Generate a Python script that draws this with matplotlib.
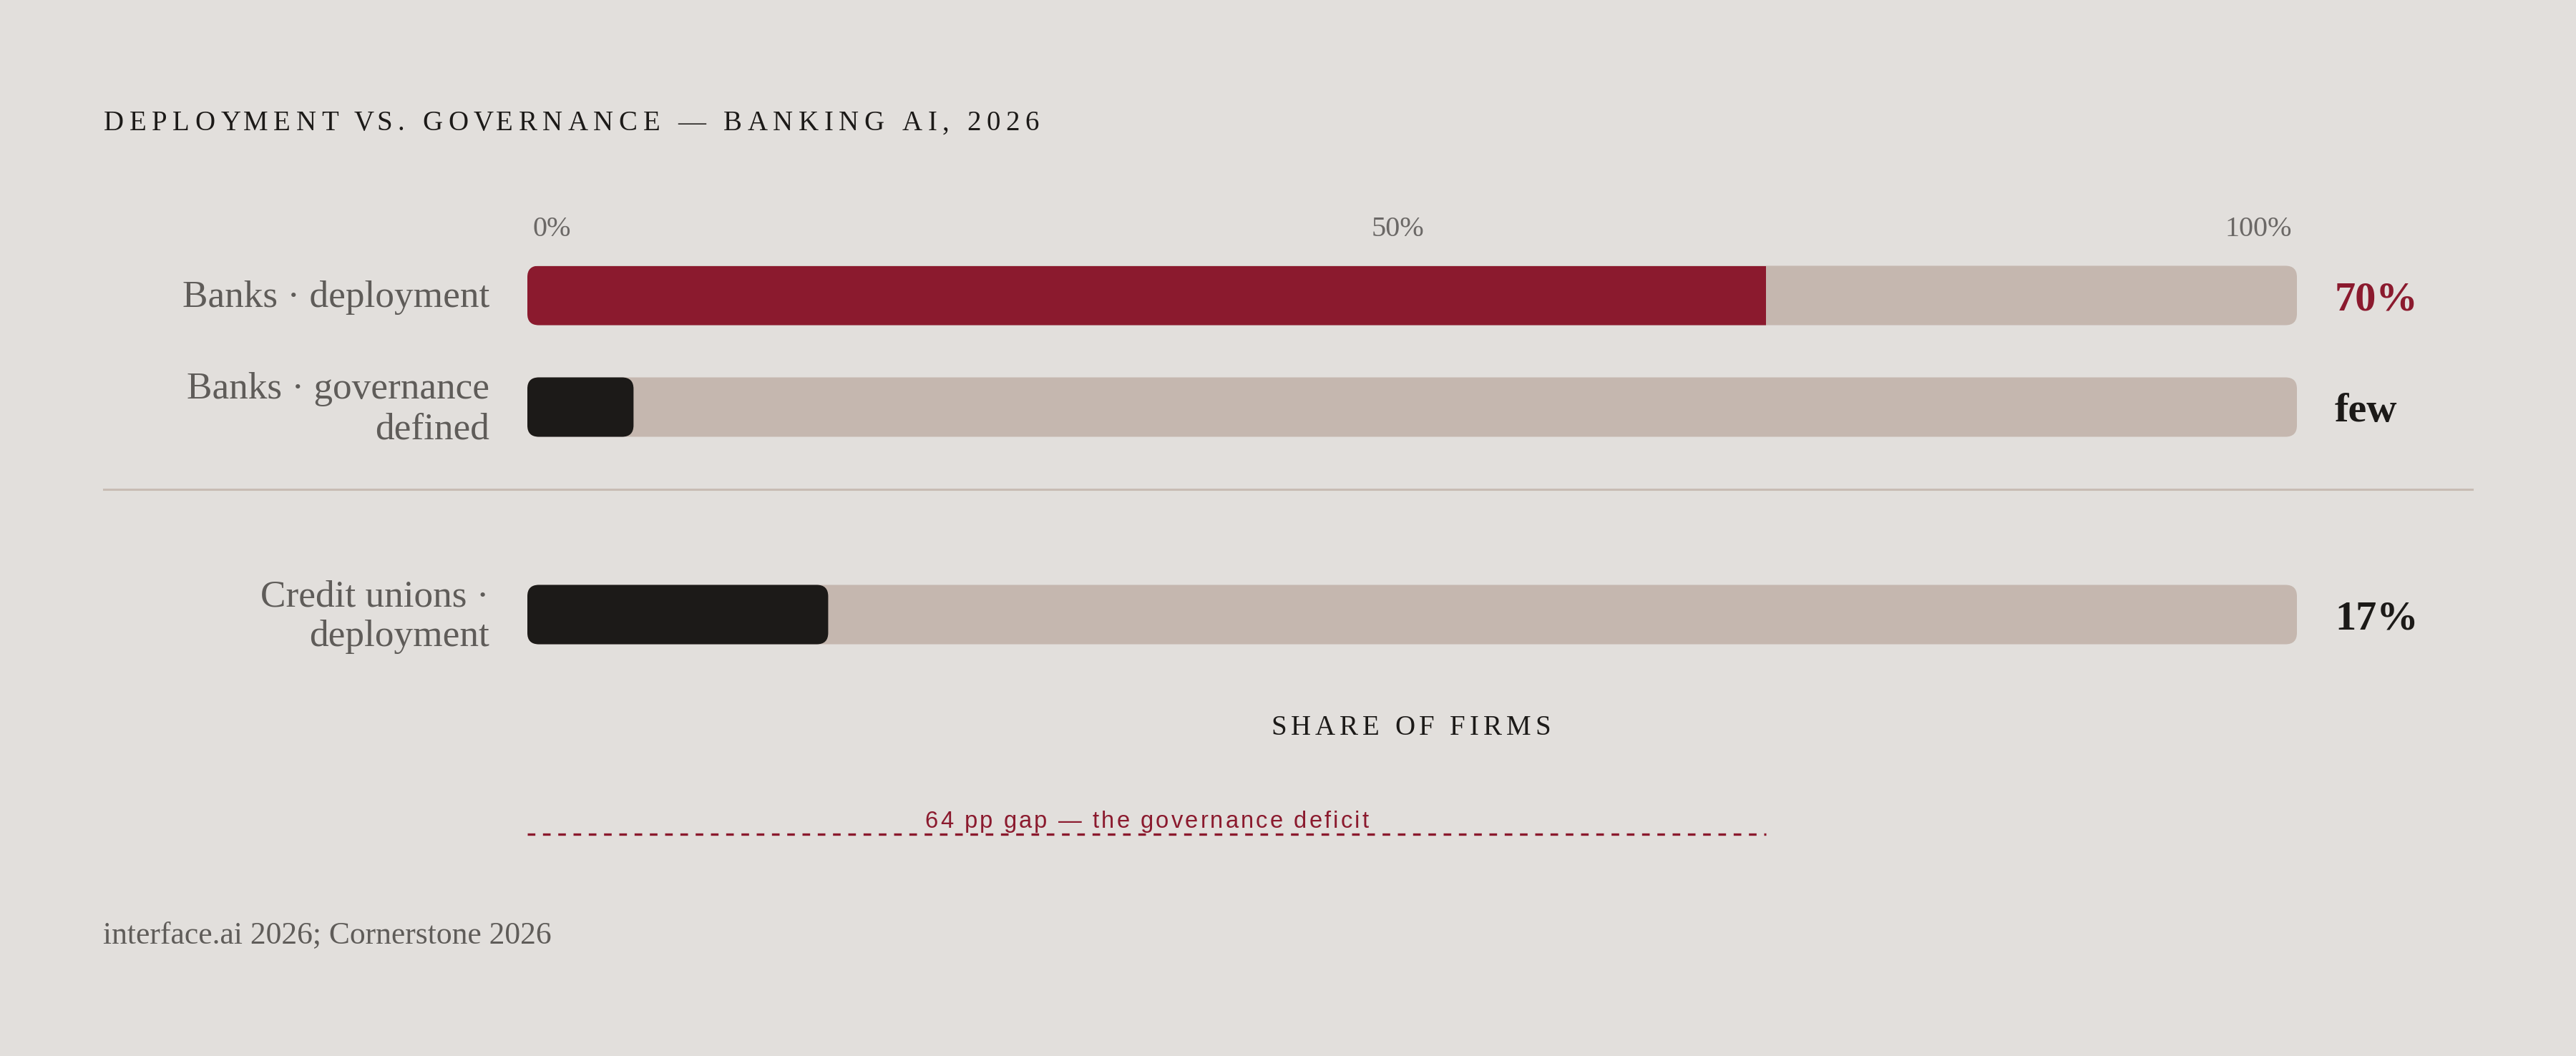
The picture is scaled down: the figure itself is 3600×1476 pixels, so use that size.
import matplotlib
matplotlib.use("Agg")
import matplotlib.pyplot as plt
import matplotlib.transforms as mtrans
from matplotlib.patches import FancyBboxPatch, Rectangle
from matplotlib.lines import Line2D
from matplotlib.font_manager import FontProperties

# ---------------- data ----------------
categories = ["Banks · deployment", "Banks · governance\ndefined", "Credit unions ·\ndeployment"]
values = [70, 6, 17]
value_labels = ["70%", "few", "17%"]
ticks = [0, 50, 100]
tick_labels = ["0%", "50%", "100%"]
gap_label = "64 pp gap — the governance deficit"
gap_span = [0, 70]
title = "DEPLOYMENT VS. GOVERNANCE — BANKING AI, 2026"
axis_title = "SHARE OF FIRMS"
source = "interface.ai 2026; Cornerstone 2026"

# ---------------- style ----------------
BG = "#E2DFDC"
TRACK = "#C5B7AF"
RED = "#8B1A2E"
DARK = "#1C1A18"
GREY = "#5F5C59"
TICKGREY = "#6B6866"
RULE = "#C8BCB4"
SERIF = ["Liberation Serif", "DejaVu Serif"]
SANS = ["Liberation Sans", "DejaVu Sans"]
bar_colors = [RED, DARK, DARK]
value_colors = [RED, DARK, DARK]

W, H, DPI = 3600, 1476, 200
fig = plt.figure(figsize=(W / DPI, H / DPI), dpi=DPI, facecolor=BG)
renderer = fig.canvas.get_renderer()

# axes geometry in pixels
AX_L, AX_R = 737, 3210
AX_T, AX_B = 300, 1200
ROW0_PX, ROW_STEP = 413, 156
ax = fig.add_axes([AX_L / W, 1 - AX_B / H, (AX_R - AX_L) / W, (AX_B - AX_T) / H])
ax.set_facecolor("none")
ax.set_xlim(0, 100)


def py(ypx):
    return (ypx - ROW0_PX) / ROW_STEP


ax.set_ylim(py(AX_B), py(AX_T))
ax.axis("off")

# row positions (layout): extra gap before the credit-union group
ypos = [0.0, 1.0, 1.0 + 290 / ROW_STEP]
bar_h = 83 / ROW_STEP

x_per_px = 100 / (AX_R - AX_L)
y_per_px = 1 / ROW_STEP
asp = y_per_px / x_per_px
r = 16 * x_per_px

for i, (cat, v) in enumerate(zip(categories, values)):
    y = ypos[i]
    track = FancyBboxPatch((0, y - bar_h / 2), 100, bar_h,
                           boxstyle=f"round,pad=0,rounding_size={r}",
                           mutation_aspect=asp, fc=TRACK, ec="none", zorder=1)
    ax.add_patch(track)
    if bar_colors[i] == RED:
        fill = Rectangle((0, y - bar_h / 2), v, bar_h, fc=bar_colors[i], ec="none", zorder=2)
        ax.add_patch(fill)
        fill.set_clip_path(track)
    else:
        fill = FancyBboxPatch((0, y - bar_h / 2), v, bar_h,
                              boxstyle=f"round,pad=0,rounding_size={r}",
                              mutation_aspect=asp, fc=bar_colors[i], ec="none", zorder=2)
        ax.add_patch(fill)

    # category label (right-aligned, lines centred on bar)
    lines = cat.split("\n")
    n = len(lines)
    center_px = ROW0_PX + y * ROW_STEP
    for j, ln in enumerate(lines):
        base = center_px + 16.5 + (j - (n - 1) / 2) * 56
        fig.text(684 / W, 1 - base / H, ln, ha="right", va="baseline",
                 family=SERIF, fontsize=19.2, color=GREY)

    # value label
    fig.text(3263 / W, 1 - (center_px + 20) / H, value_labels[i], ha="left", va="baseline",
             family=SERIF, fontsize=21, fontweight="bold", color=value_colors[i])

# tick labels along the top (space-between layout with small inset)
btr = mtrans.blended_transform_factory(ax.transData, fig.transFigure)
tick_y = 1 - 330 / H
inset = 7 * x_per_px
tl = []
for t, lab in zip(ticks, tick_labels):
    if t == ticks[0]:
        ha, xx = "left", t + inset
    elif t == ticks[-1]:
        ha, xx = "right", t - inset
    else:
        ha, xx = "center", t
    txt = ax.text(xx, tick_y, lab, ha=ha, va="baseline", family=SERIF, fontsize=14.5,
                  color=TICKGREY, transform=btr, clip_on=False)
    tl.append(txt)
fig.canvas.draw()
e0 = tl[0].get_window_extent(renderer)
e2 = tl[-1].get_window_extent(renderer)
mid_px = (e0.x1 + e2.x0) / 2
tl[1].set_transform(fig.transFigure)
tl[1].set_x(mid_px / W)


def spaced_text(x_px, base_px, s, size, family, color, target_w, ha="left", weight="normal"):
    prop = FontProperties(family=family, size=size, weight=weight)

    def w(t):
        return renderer.get_text_width_height_descent(t, prop, ismath=False)[0]
    ref = w("aa")
    advs = [w("a" + c + "a") - ref for c in s]
    natural = sum(advs[:-1]) + w(s[-1])
    sp = (target_w - natural) / (len(s) - 1)
    start = x_px if ha == "left" else x_px - target_w / 2
    cur = start
    for c, a in zip(s, advs):
        if c != " ":
            fig.text(cur / W, 1 - base_px / H, c, ha="left", va="baseline",
                     fontproperties=prop, color=color)
        cur += a + sp


# title
spaced_text(145, 182, title, 14, SERIF, DARK, 1452 - 145)
# axis title
spaced_text((1776 + 2167) / 2, 1027, axis_title, 14, SERIF, DARK, 2167 - 1776, ha="center")

# separator rule
fig.add_artist(Line2D([145 / W, 3455 / W], [1 - 684 / H] * 2, transform=fig.transFigure,
                      color=RULE, lw=1.1))

# gap annotation: dashed line from 0 to 70 and label centred above
gy = py(1166)
ax.plot(gap_span, [gy, gy], color=RED, lw=1.2, ls=(0, (3.2, 3.2)), clip_on=False,
        solid_capstyle="butt", dash_capstyle="butt")
gx_center_px = AX_L + (sum(gap_span) / 2) / x_per_px
spaced_text(gx_center_px, 1157, gap_label, 11.8, SANS, RED, 1913 - 1293, ha="center")

# source
fig.text(144 / W, 1 - 1318 / H, source, ha="left", va="baseline", family=SERIF,
         fontsize=15.7, color=GREY)

fig.savefig("out.png", dpi=DPI, facecolor=BG)
